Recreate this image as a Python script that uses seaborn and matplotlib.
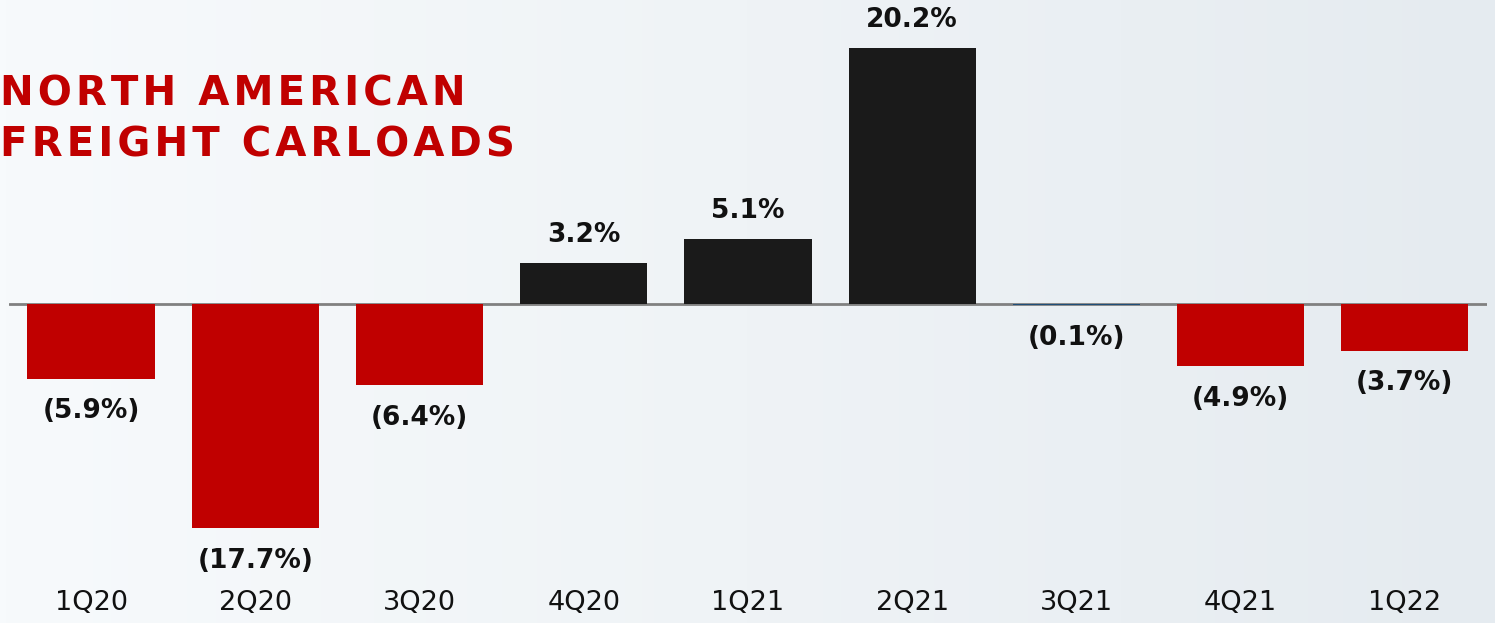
import numpy as np
import pandas as pd
import matplotlib
matplotlib.use('Agg')
import matplotlib.pyplot as plt
from matplotlib.colors import LinearSegmentedColormap
import seaborn as sns

quarters = ['1Q20', '2Q20', '3Q20', '4Q20', '1Q21', '2Q21', '3Q21', '4Q21', '1Q22']
change = [-5.9, -17.7, -6.4, 3.2, 5.1, 20.2, -0.1, -4.9, -3.7]
bar_colors = ['#c00000', '#c00000', '#c00000', '#1a1a1a', '#1a1a1a', '#1a1a1a',
              '#1f4e79', '#c00000', '#c00000']
title_lines = ['NORTH AMERICAN', 'FREIGHT CARLOADS']

df = pd.DataFrame({'quarter': quarters, 'change': change})

sns.set_style('white')
plt.rcParams['font.family'] = ['DejaVu Sans']

fig = plt.figure(figsize=(14.95, 6.23), dpi=100)

# soft background gradient
bg = fig.add_axes([0, 0, 1, 1], zorder=-5)
cmap = LinearSegmentedColormap.from_list('bg', ['#f7fafc', '#eff3f6', '#e5ebf0'])
grad = np.linspace(0, 1, 256).reshape(1, -1)
bg.imshow(grad, aspect='auto', cmap=cmap, extent=[0, 1, 0, 1])
bg.axis('off')

ax = fig.add_axes([0.006, 0, 0.9886, 1])
ax.patch.set_alpha(0)
sns.barplot(data=df, x='quarter', y='change', hue='quarter', palette=bar_colors,
            width=0.775, legend=False, saturation=1, linewidth=0, ax=ax)
ax.set_xlim(-0.5, 8.5)
ax.set_ylim(-25.18, 23.99)
ax.axhline(0, color='#808080', lw=2, zorder=0)
ax.axis('off')

for i, (q, v) in enumerate(zip(quarters, change)):
    if v >= 0:
        ax.annotate(f'{v:.1f}%', (i, v), xytext=(0, 20.5), textcoords='offset points',
                    ha='center', va='center', fontsize=19, fontweight='bold', color='#111111')
    else:
        ax.annotate(f'({abs(v):.1f}%)', (i, v), xytext=(0, -23.5), textcoords='offset points',
                    ha='center', va='center', fontsize=19, fontweight='bold', color='#111111')
    ax.text(i, 0.032, q, transform=ax.get_xaxis_transform(), ha='center', va='center',
            fontsize=19.5, color='#111111')

spaced = ['\u200a'.join(line) for line in title_lines]
fig.text(0.0, 0.849, spaced[0], ha='left', va='center', fontsize=29,
         fontweight='bold', color='#c00000')
fig.text(0.0, 0.766, spaced[1], ha='left', va='center', fontsize=29,
         fontweight='bold', color='#c00000')

plt.savefig('out.png', dpi=100)
